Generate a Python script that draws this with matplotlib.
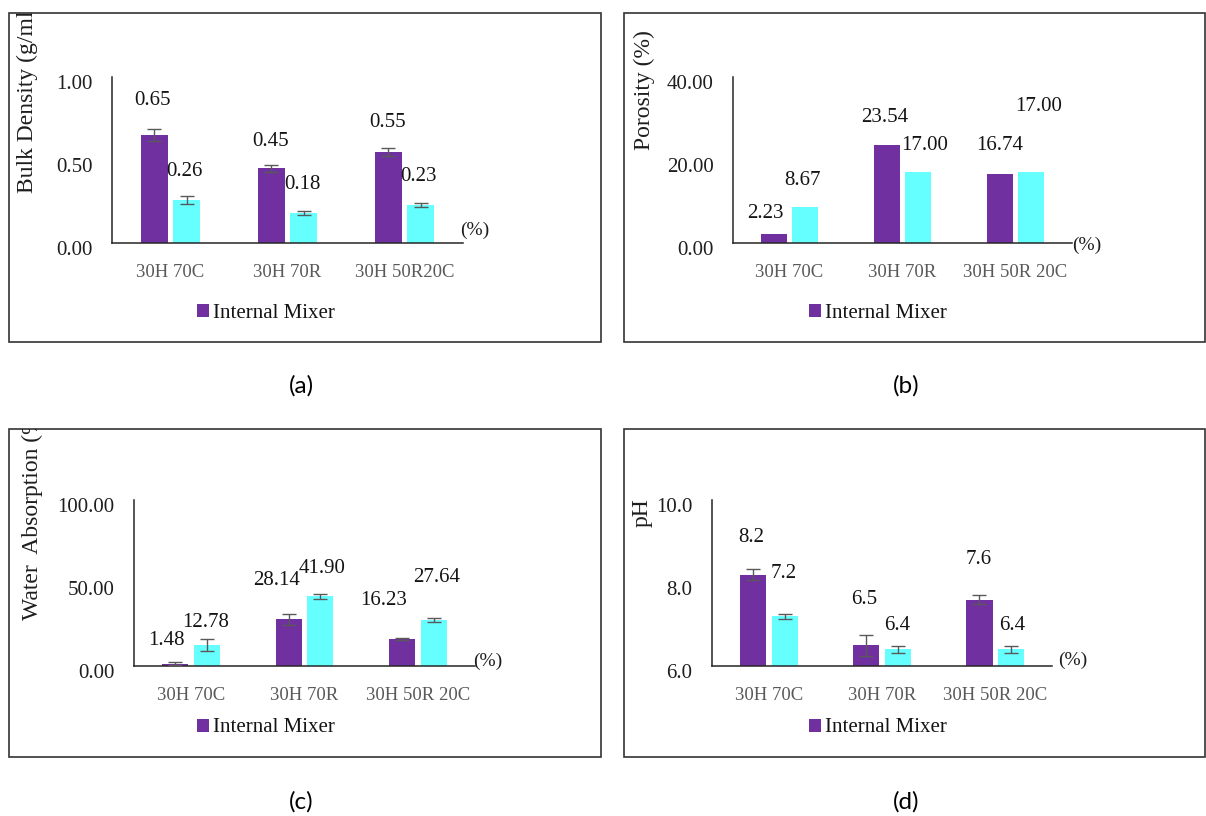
import matplotlib
matplotlib.use('Agg')
import matplotlib.pyplot as plt
import matplotlib.transforms as mtransforms
from matplotlib.patches import Rectangle

W, H = 1206, 816

categories = ['30H 70C', '30H 70R', '30H 50R 20C']
categories_a = ['30H 70C', '30H 70R', '30H 50R20C']
series_name = 'Internal Mixer'

# (a) bulk density
density_1 = [0.65, 0.45, 0.55]
density_2 = [0.26, 0.18, 0.23]
density_1_err = [0.035, 0.02, 0.025]
density_2_err = [0.025, 0.012, 0.012]
density_ticks = [0.0, 0.5, 1.0]

# (b) porosity
porosity_1 = [2.23, 23.54, 16.74]
porosity_2 = [8.67, 17.00, 17.00]
porosity_ticks = [0.0, 20.0, 40.0]

# (c) water absorption
water_1 = [1.48, 28.14, 16.23]
water_2 = [12.78, 41.90, 27.64]
water_1_err = [0.8, 3.3, 0.7]
water_2_err = [3.6, 1.5, 1.4]
water_ticks = [0.0, 50.0, 100.0]

# (d) pH
ph_1 = [8.2, 6.5, 7.6]
ph_2 = [7.2, 6.4, 6.4]
ph_1_err = [0.13, 0.25, 0.11]
ph_2_err = [0.06, 0.08, 0.08]
ph_ticks = [6.0, 8.0, 10.0]

PURPLE = '#7030A0'
CYAN = '#66FFFF'
SERIF = 'Liberation Serif'

fig = plt.figure(figsize=(W / 100, H / 100), dpi=100)


def fx(px):
    return px / W


def fy(py):
    return 1 - py / H


def px2pt(px):
    return px * 72 / 100


def panel(box, axbox, cats, v1, v2, e1, e2, ticks, fmt, base, ylabel,
          ylabel_pos, unit_pos, legend_pos, caption, caption_pos, offsets):
    # frame round the panel
    l, t, r, b = box
    rect = Rectangle((fx(l), fy(b)), fx(r) - fx(l), fy(t) - fy(b),
                     transform=fig.transFigure, fill=False,
                     edgecolor='#333333', lw=1.2)
    fig.add_artist(rect)

    al, at, ar, ab = axbox
    ax = fig.add_axes([fx(al), fy(ab), fx(ar) - fx(al), fy(at) - fy(ab)])
    ax.patch.set_alpha(0)
    x = range(len(cats))
    w, d = 0.23, 0.14
    x1 = [i - d for i in x]
    x2 = [i + d for i in x]
    h1 = ax.bar(x1, [v - base for v in v1], w, bottom=base, color=PURPLE,
                zorder=2)
    ax.bar(x2, [v - base for v in v2], w, bottom=base, color=CYAN, zorder=2)
    if e1 is not None:
        ax.errorbar(x1, v1, yerr=e1, fmt='none', ecolor='#595959',
                    elinewidth=1.0, capsize=5, capthick=1.0, zorder=3)
        ax.errorbar(x2, v2, yerr=e2, fmt='none', ecolor='#595959',
                    elinewidth=1.0, capsize=5, capthick=1.0, zorder=3)

    # value labels
    for k, (xx, v) in enumerate(zip(x1 + x2, list(v1) + list(v2))):
        dx, dy = offsets[k]
        ax.annotate(fmt.format(v), (xx, v), xytext=(px2pt(dx), px2pt(dy)),
                    textcoords='offset points', ha='center', va='center',
                    fontsize=15, family=SERIF, color='#141414')

    ax.set_xlim(-0.5, len(cats) - 0.5)
    ax.set_ylim(ticks[0], ticks[-1])
    ax.set_yticks(ticks)
    ax.set_yticklabels([fmt.format(tk) for tk in ticks])
    ax.set_xticks(list(x))
    ax.set_xticklabels(cats)
    ax.tick_params(axis='both', length=0)
    ax.tick_params(axis='y', pad=14, labelsize=15, labelcolor='#1e1e1e')
    ax.tick_params(axis='x', pad=15, labelsize=13.5, labelcolor='#595959')
    for lab in ax.get_yticklabels():
        lab.set_family(SERIF)
        lab.set_transform(lab.get_transform() + mtransforms.ScaledTranslation(
            0, -0.05, fig.dpi_scale_trans))
    for lab in ax.get_xticklabels():
        lab.set_family(SERIF)
    for s in ('top', 'right'):
        ax.spines[s].set_visible(False)
    for s in ('left', 'bottom'):
        ax.spines[s].set_color('#262626')
        ax.spines[s].set_linewidth(1.1)

    # y title, cut off by the frame
    yt = fig.text(fx(ylabel_pos[0]), fy(ylabel_pos[1]), ylabel, rotation=90,
                  rotation_mode='anchor', ha='left', va='center',
                  fontsize=17, family=SERIF, color='#1e1e1e')
    yt.set_clip_path(rect)
    yt.set_clip_on(True)

    fig.text(fx(unit_pos[0]), fy(unit_pos[1]), '(%)', ha='center',
             va='center', fontsize=14, family=SERIF, color='#1e1e1e')

    ax.legend([h1], [series_name], loc='center',
              bbox_to_anchor=(fx(legend_pos[0]), fy(legend_pos[1])),
              bbox_transform=fig.transFigure, frameon=False,
              handlelength=0.6, handleheight=0.6, handletextpad=0.2,
              borderpad=0, prop={'family': SERIF, 'size': 15},
              labelcolor='#141414')

    fig.text(fx(caption_pos[0]), fy(caption_pos[1]), caption, ha='center',
             va='center', fontsize=17.5, family='Lato', color='black')
    return ax


panel((9, 13, 601, 342), (112, 77, 463, 243), categories_a,
      density_1, density_2, density_1_err, density_2_err, density_ticks,
      '{:.2f}', 0.0, 'Bulk Density (g/ml)', (27, 193), (475, 230), (266, 313),
      '(a)', (301, 386),
      [(-1.5, 35), (-1, 27), (-1, 29), (-2, 28), (-1, 29), (-2, 28)])

panel((624, 13, 1205, 342), (733, 77, 1072, 243), categories,
      porosity_1, porosity_2, None, None, porosity_ticks,
      '{:.2f}', 0.0, 'Porosity (%)', (644, 150), (1087, 245), (878, 313),
      '(b)', (906, 386),
      [(-8.7, 20.4), (-1.7, 28.3), (0.3, 27.8),
       (-2.6, 27), (6.7, 26.8), (7.7, 66)])

panel((9, 429, 601, 757), (134, 500, 475, 666), categories,
      water_1, water_2, water_1_err, water_2_err, water_ticks,
      '{:.2f}', 0.0, 'Water  Absorption (%)', (32, 620), (488, 661),
      (266, 728), '(c)', (301, 802),
      [(-8.2, 23.5), (-12, 39), (-18.3, 38.4),
       (-1, 21.8), (1.3, 27.7), (2.6, 43)])

panel((624, 429, 1205, 757), (712, 500, 1052, 666), categories,
      ph_1, ph_2, ph_1_err, ph_2_err, ph_ticks,
      '{:.1f}', 6.0, 'pH', (642, 527), (1073, 660), (878, 728),
      '(d)', (906, 802),
      [(-1.1, 36.7), (-2.4, 45.3), (-0.4, 40.3),
       (-1.3, 42.9), (-0.9, 24.4), (0.5, 24.4)])

fig.savefig('out.png', dpi=100, facecolor='white')
